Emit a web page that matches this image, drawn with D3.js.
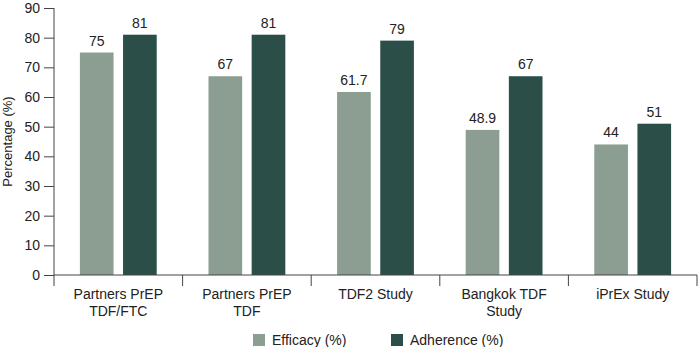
<!DOCTYPE html>
<html>
<head>
<meta charset="utf-8">
<script src="https://cdn.jsdelivr.net/npm/d3@7"></script>
<style>
  html, body { margin: 0; padding: 0; background: #fff; }
  svg { display: block; font-family: "Liberation Sans", Arial, Helvetica, sans-serif; }
</style>
</head>
<body>
<svg id="chart" width="699" height="347"></svg>
<script>
// Study names (each line of a label is one entry)
const categories = [
  ["Partners PrEP", "TDF/FTC"],
  ["Partners PrEP", "TDF"],
  ["TDF2 Study"],
  ["Bangkok TDF", "Study"],
  ["iPrEx Study"]
];
const efficacy  = [75, 67, 61.7, 48.9, 44];
const adherence = [81, 81, 79, 67, 51];
const seriesNames = ["Efficacy (%)", "Adherence (%)"];
const seriesColors = ["#8c9e91", "#2b4f48"];
const yTicks = [0, 10, 20, 30, 40, 50, 60, 70, 80, 90];

const svg = d3.select("#chart");
const margin = { left: 54, right: 2, top: 8, bottom: 72 };
const W = 699, H = 347;

const keys = categories.map((c, i) => i);
const x = d3.scaleBand().domain(keys).range([margin.left, W - margin.right]).paddingInner(0).paddingOuter(0);
const xInner = d3.scaleBand().domain([0, 1]).range([0, x.bandwidth()]).paddingInner(0.22).paddingOuter(0.6);
const y = d3.scaleLinear().domain([0, 90]).range([H - margin.bottom, margin.top]);

const axisColor = "#444";
const textColor = "#222";

// Bars and their value labels
const series = [efficacy, adherence];
series.forEach((vals, s) => {
  svg.append("g").selectAll("rect")
    .data(vals)
    .join("rect")
    .attr("x", (d, i) => x(i) + xInner(s))
    .attr("y", d => y(d))
    .attr("width", xInner.bandwidth())
    .attr("height", d => y(0) - y(d))
    .attr("fill", seriesColors[s]);

  svg.append("g").selectAll("text")
    .data(vals)
    .join("text")
    .attr("x", (d, i) => x(i) + xInner(s) + xInner.bandwidth() / 2)
    .attr("y", d => y(d) - 7)
    .attr("text-anchor", "middle")
    .attr("font-size", 14)
    .attr("fill", textColor)
    .text(d => d);
});

// Y axis
const yAxis = svg.append("g")
  .attr("transform", `translate(${margin.left},0)`)
  .call(d3.axisLeft(y).tickValues(yTicks).tickSize(10).tickPadding(4).tickSizeOuter(0));
yAxis.select(".domain").attr("stroke", axisColor).attr("d", `M0,${y(0) + 11}V${y(90)}`);
yAxis.selectAll(".tick line").attr("stroke", axisColor);
yAxis.selectAll(".tick text").attr("font-size", 14).attr("fill", textColor).attr("font-family", "inherit");

// X axis baseline with separators between groups
svg.append("line")
  .attr("x1", margin.left).attr("x2", W - margin.right)
  .attr("y1", y(0)).attr("y2", y(0))
  .attr("stroke", axisColor);
svg.append("g").selectAll("line")
  .data(keys.slice(1).concat([keys.length]))
  .join("line")
  .attr("x1", d => d < keys.length ? x(d) : W - margin.right)
  .attr("x2", d => d < keys.length ? x(d) : W - margin.right)
  .attr("y1", y(0)).attr("y2", y(0) + 11)
  .attr("stroke", axisColor);

// Category labels
const catG = svg.append("g").selectAll("text")
  .data(categories)
  .join("text")
  .attr("x", (d, i) => x(i) + x.bandwidth() / 2)
  .attr("y", y(0) + 24)
  .attr("text-anchor", "middle")
  .attr("font-size", 14)
  .attr("fill", textColor);
catG.selectAll("tspan")
  .data(d => d)
  .join("tspan")
  .attr("x", function () { return d3.select(this.parentNode).attr("x"); })
  .attr("dy", (d, i) => i === 0 ? 0 : 17)
  .text(d => d);

// Y axis title
svg.append("text")
  .attr("transform", `translate(12,${(y(0) + y(90)) / 2}) rotate(-90)`)
  .attr("text-anchor", "middle")
  .attr("font-size", 13)
  .attr("fill", textColor)
  .text("Percentage (%)");

// Legend
const legendX = [253, 391];
const legend = svg.append("g").selectAll("g")
  .data(seriesNames)
  .join("g")
  .attr("transform", (d, i) => `translate(${legendX[i]},${334})`);
legend.append("rect")
  .attr("width", 12).attr("height", 12)
  .attr("fill", (d, i) => seriesColors[i]);
legend.append("text")
  .attr("x", 19).attr("y", 11)
  .attr("font-size", 14)
  .attr("fill", textColor)
  .text(d => d);
</script>
</body>
</html>
